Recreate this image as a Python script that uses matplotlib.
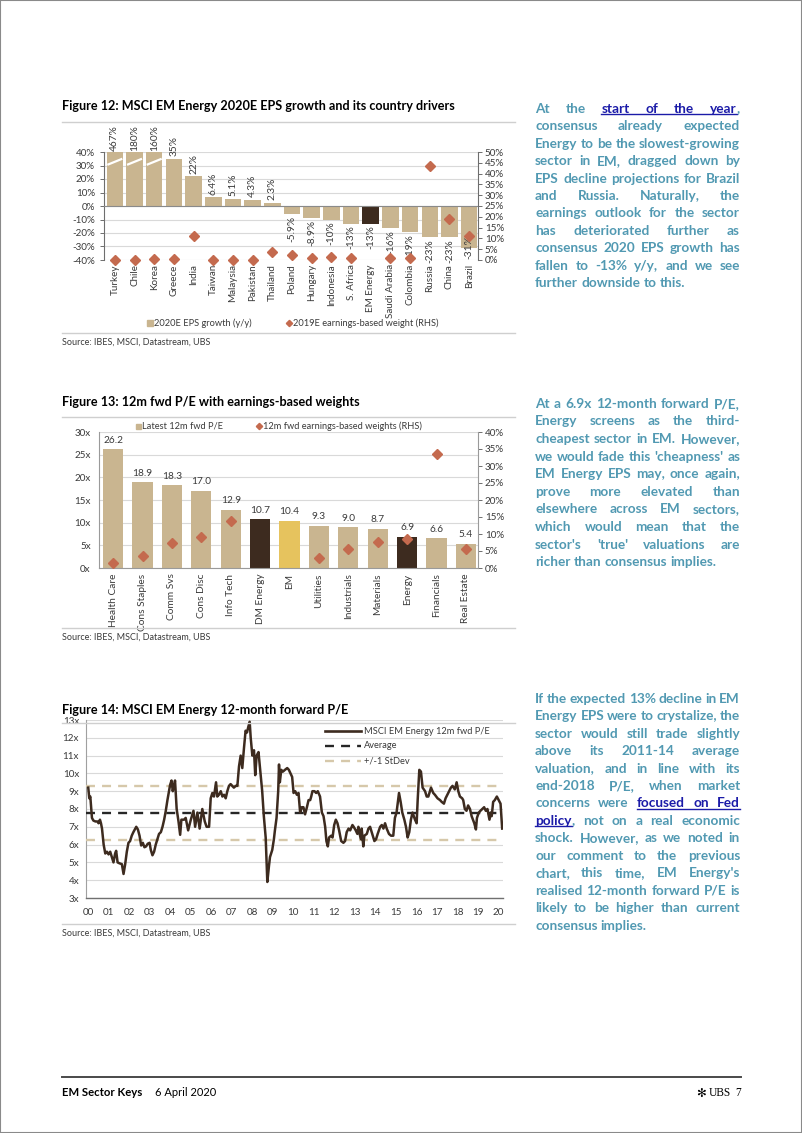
import re
import numpy as np
import matplotlib
matplotlib.use("Agg")
import matplotlib.pyplot as plt
from matplotlib.lines import Line2D
from matplotlib.patches import Rectangle

# ---------------- data ----------------
fig12_countries = ["Turkey", "Chile", "Korea", "Greece", "India", "Taiwan", "Malaysia",
                   "Pakistan", "Thailand", "Poland", "Hungary", "Indonesia", "S. Africa",
                   "EM Energy", "Saudi Arabia", "Colombia", "Russia", "China", "Brazil"]
fig12_eps_growth = [467, 180, 160, 35, 22, 6.4, 5.1, 4.3, 2.3, -5.9, -8.9, -10, -13,
                    -13, -16, -19, -23, -23, -31]
fig12_weights = [0.0, 0.0, 0.5, 0.3, 11.3, 0.2, 0.2, 0.1, 3.8, 2.3, 0.8, 1.2, 0.8,
                 np.nan, 1.0, 0.8, 43.7, 19.0, 11.1]
fig12_highlight = "EM Energy"

fig13_sectors = ["Health Care", "Cons Staples", "Comm Svs", "Cons Disc", "Info Tech",
                 "DM Energy", "EM", "Utilities", "Industrials", "Materials", "Energy",
                 "Financials", "Real Estate"]
fig13_pe = [26.2, 18.9, 18.3, 17.0, 12.9, 10.7, 10.4, 9.3, 9.0, 8.7, 6.9, 6.6, 5.4]
fig13_weights = [1.6, 3.6, 7.4, 9.2, 13.9, np.nan, np.nan, 2.85, 5.7, 7.7, 8.4, 33.5, 5.5]
fig13_dark = ["DM Energy", "Energy"]
fig13_yellow = ["EM"]

pe_dates = [
    2000.00, 2000.05, 2000.10, 2000.18, 2000.25, 2000.35, 2000.45, 2000.50, 2000.57, 2000.62,
    2000.67, 2000.75, 2000.83, 2000.91, 2000.99, 2001.07, 2001.15, 2001.23, 2001.31, 2001.36,
    2001.43, 2001.52, 2001.64, 2001.72, 2001.80, 2001.88, 2001.96, 2002.04, 2002.12, 2002.20,
    2002.34, 2002.42, 2002.50, 2002.58, 2002.66, 2002.74, 2002.82, 2002.90, 2002.99, 2003.05,
    2003.13, 2003.21, 2003.29, 2003.37, 2003.45, 2003.54, 2003.62, 2003.70, 2003.78, 2003.86,
    2003.99, 2004.06, 2004.12, 2004.18, 2004.23, 2004.31, 2004.40, 2004.48, 2004.54, 2004.67,
    2004.75, 2004.87, 2005.00, 2005.13, 2005.21, 2005.32, 2005.43, 2005.56, 2005.68, 2005.77,
    2005.89, 2005.97, 2006.05, 2006.13, 2006.23, 2006.29, 2006.37, 2006.46, 2006.54, 2006.62,
    2006.70, 2006.78, 2006.86, 2006.94, 2007.02, 2007.10, 2007.19, 2007.27, 2007.35, 2007.43,
    2007.51, 2007.59, 2007.67, 2007.74, 2007.80, 2007.87, 2007.92, 2008.00, 2008.08, 2008.14,
    2008.21, 2008.30, 2008.40, 2008.48, 2008.56, 2008.65, 2008.69, 2008.73, 2008.81, 2008.86,
    2008.97, 2009.05, 2009.10, 2009.18, 2009.26, 2009.30, 2009.34, 2009.41, 2009.49, 2009.59,
    2009.70, 2009.78, 2009.86, 2009.94, 2010.01, 2010.09, 2010.17, 2010.25, 2010.33, 2010.41,
    2010.49, 2010.57, 2010.66, 2010.74, 2010.82, 2010.87, 2010.93, 2011.03, 2011.11, 2011.19,
    2011.30, 2011.39, 2011.47, 2011.55, 2011.61, 2011.68, 2011.74, 2011.84, 2011.91, 2011.99,
    2012.07, 2012.15, 2012.23, 2012.33, 2012.44, 2012.52, 2012.60, 2012.69, 2012.77, 2012.88,
    2012.94, 2013.04, 2013.12, 2013.17, 2013.25, 2013.30, 2013.33, 2013.41, 2013.46, 2013.58,
    2013.66, 2013.74, 2013.82, 2013.95, 2014.03, 2014.11, 2014.23, 2014.31, 2014.39, 2014.47,
    2014.55, 2014.66, 2014.76, 2014.87, 2014.95, 2015.03, 2015.15, 2015.23, 2015.31, 2015.41,
    2015.49, 2015.57, 2015.65, 2015.73, 2015.81, 2015.93, 2016.01, 2016.06, 2016.14, 2016.22,
    2016.30, 2016.42, 2016.50, 2016.58, 2016.71, 2016.82, 2016.90, 2017.03, 2017.15, 2017.23,
    2017.34, 2017.42, 2017.55, 2017.68, 2017.76, 2017.87, 2017.96, 2018.04, 2018.12, 2018.23,
    2018.28, 2018.36, 2018.44, 2018.52, 2018.61, 2018.69, 2018.82, 2018.90, 2018.95, 2019.04,
    2019.12, 2019.21, 2019.30, 2019.38, 2019.46, 2019.56, 2019.63, 2019.67, 2019.74, 2019.82,
    2019.92, 2020.01, 2020.10, 2020.18]
pe_values = [
    9.2, 8.6, 8.7, 7.5, 7.35, 7.3, 7.3, 7.2, 7.4, 7.2,
    6.9, 6.0, 5.5, 5.6, 5.45, 5.6, 5.3, 5.0, 5.5, 5.65,
    5.0, 4.95, 4.9, 4.35, 4.9, 5.6, 6.1, 6.2, 6.5, 6.7,
    7.0, 6.85, 6.5, 5.95, 6.1, 5.85, 5.9, 6.05, 6.1, 5.7,
    5.4, 5.6, 6.0, 6.3, 6.6, 6.7, 7.0, 7.4, 7.9, 8.5,
    9.35, 9.6, 9.0, 9.3, 9.6, 8.0, 7.3, 6.55, 7.4, 7.4,
    7.5, 6.8, 7.4, 7.9, 7.0, 7.8, 6.9, 8.0, 7.3, 7.0,
    7.0, 8.6, 8.9, 8.7, 9.5, 8.7, 8.8, 9.0, 8.7, 8.8,
    8.6, 9.0, 9.3, 9.4, 9.3, 9.2, 9.3, 9.3, 10.4, 11.0,
    10.3, 11.4, 12.4, 12.3, 12.6, 12.9, 12.0, 11.0, 11.3, 9.9,
    11.0, 11.2, 10.0, 9.0, 7.6, 6.4, 5.1, 3.9, 4.8, 5.3,
    5.7, 6.3, 6.8, 7.5, 9.0, 10.5, 9.5, 10.2, 10.1, 10.2,
    10.3, 10.2, 10.0, 9.8, 8.9, 9.0, 8.8, 8.9, 7.8, 8.1,
    8.1, 7.7, 8.1, 8.5, 8.5, 8.7, 9.0, 9.0, 8.9, 9.0,
    8.7, 7.8, 7.6, 7.0, 6.2, 5.9, 6.4, 6.5, 6.4, 7.1,
    7.4, 7.2, 6.8, 6.2, 6.1, 6.2, 6.7, 6.9, 6.8, 7.1,
    7.0, 6.8, 6.6, 7.0, 6.5, 6.3, 6.9, 5.9, 6.5, 6.6,
    6.9, 7.0, 6.7, 6.2, 6.3, 6.6, 7.0, 7.1, 6.9, 7.2,
    6.9, 6.6, 6.5, 6.5, 7.5, 7.8, 8.9, 8.4, 7.8, 7.4,
    7.0, 6.4, 6.7, 7.4, 7.8, 7.4, 7.2, 8.5, 10.2, 10.1,
    9.2, 9.0, 8.7, 8.7, 9.2, 8.9, 8.8, 8.6, 8.5, 8.4,
    8.3, 8.6, 8.9, 9.2, 9.3, 9.1, 9.5, 9.0, 8.7, 8.6,
    8.5, 8.0, 7.9, 8.2, 8.0, 7.6, 7.2, 6.85, 7.5, 7.8,
    7.9, 8.0, 8.1, 7.9, 8.0, 7.4, 7.8, 7.6, 8.4, 8.5,
    8.7, 8.5, 8.3, 6.9]
pe_average = 7.8
pe_sd_band = [6.25, 9.3]
fig14_years = list(range(2000, 2021))

titles = ["Figure 12: MSCI EM Energy 2020E EPS growth and its country drivers",
          "Figure 13: 12m fwd P/E with earnings-based weights",
          "Figure 14: MSCI EM Energy 12-month forward P/E"]
source_text = "Source: IBES, MSCI, Datastream, UBS"

para1 = ["At the [start] [of] [the] [year],",
         "consensus already expected",
         "Energy to be the slowest-growing",
         "sector in EM, dragged down by",
         "EPS decline projections for Brazil",
         "and Russia. Naturally, the",
         "earnings outlook for the sector",
         "has deteriorated further as",
         "consensus 2020 EPS growth has",
         "fallen to -13% y/y, and we see",
         "further downside to this."]
para2 = ["At a 6.9x 12-month forward P/E,",
         "Energy screens as the third-",
         "cheapest sector in EM. However,",
         "we would fade this 'cheapness' as",
         "EM Energy EPS may, once again,",
         "prove more elevated than",
         "elsewhere across EM sectors,",
         "which would mean that the",
         "sector's 'true' valuations are",
         "richer than consensus implies."]
para3 = ["If the expected 13% decline in EM",
         "Energy EPS were to crystalize, the",
         "sector would still trade slightly",
         "above its 2011-14 average",
         "valuation, and in line with its",
         "end-2018 P/E, when market",
         "concerns were [focused] [on] [Fed]",
         "[policy], not on a real economic",
         "shock. However, as we noted in",
         "our comment to the previous",
         "chart, this time, EM Energy's",
         "realised 12-month forward P/E is",
         "likely to be higher than current",
         "consensus implies."]

# ---------------- style ----------------
FONT = "Lato"
TXT = "#3a3a3a"
TAN = "#C9B590"
DARK = "#3D2B1F"
YELLOW = "#E6C35E"
DIAMOND = "#C46A4E"
SD_TAN = "#D6C8AA"
GRID = "#D9D9D9"
SPINE = "#6e6e6e"
PARA = "#5199B2"
LINK = "#1B1BA8"
TICK_FS = 7.1
LEG_FS = 6.7
VAL_FS = 7.3

plt.rcParams["font.family"] = [FONT, "DejaVu Sans"]

W, H = 802, 1133
fig = plt.figure(figsize=(W / 100, H / 100), dpi=100)
fig.patch.set_facecolor("white")


def fx(x):
    return x / W


def fy(y):
    return 1 - y / H


def rect(x0, y0, x1, y1):
    return [fx(x0), fy(y1), (x1 - x0) / W, (y1 - y0) / H]


def hline(x0, x1, y, color, lw):
    fig.add_artist(Line2D([fx(x0), fx(x1)], [fy(y), fy(y)], color=color, lw=lw,
                          transform=fig.transFigure))


def style_ticks(ax):
    ax.tick_params(labelsize=TICK_FS, colors=TXT, length=3, width=0.7, color=SPINE)


# ---------- headers / sources ----------
for t, y in zip(titles, [106, 402, 710]):
    fig.text(fx(62), fy(y), t, fontsize=9.05, fontweight="bold", color="black",
             va="center", ha="left")
for y in [122, 417, 723]:
    hline(62, 515, y, "#CFCFCF", 1.0)
for y_line, y_txt in [(333, 342), (628, 637), (924, 933)]:
    hline(62, 515, y_line, "#CFCFCF", 1.0)
    fig.text(fx(62), fy(y_txt), source_text, fontsize=6.45, color=TXT, va="center",
             ha="left")

# ---------------- Figure 12 ----------------
ax = fig.add_axes(rect(104, 152, 478, 260))
n12 = len(fig12_countries)
x12 = np.arange(n12)
shown = [min(v, 40) for v in fig12_eps_growth]
cols = [DARK if c == fig12_highlight else TAN for c in fig12_countries]
ax.bar(x12, shown, width=0.84, color=cols, zorder=2)
ax.set_xlim(-0.55, n12 - 0.55)
ax.set_ylim(-40, 40)
ax.set_yticks(np.arange(-40, 41, 10))
ax.set_yticklabels([f"{v}%" for v in range(-40, 41, 10)])
ax.yaxis.grid(True, color=GRID, lw=0.8, zorder=0)
ax.set_axisbelow(True)
ax.axhline(0, color="#8a8a8a", lw=0.8, zorder=3)
for s in ["top", "bottom"]:
    ax.spines[s].set_visible(False)
ax.spines["left"].set_color(SPINE)
ax.spines["right"].set_visible(False)
style_ticks(ax)
ax.set_xticks(x12)
ax.set_xticklabels(fig12_countries, rotation=90, fontsize=TICK_FS, color=TXT)
ax.tick_params(axis="x", length=0, pad=3)
for i, v in enumerate(fig12_eps_growth):
    lab = f"{v:.1f}%" if abs(v) < 10 else f"{v:.0f}%"
    if v > 40:
        # truncated bar: break marks
        ax.plot([i - 0.38, i + 0.38], [30.5, 35.0], color="white", lw=1.6, zorder=4,
                solid_capstyle="butt")
        ax.text(i, 41, lab, rotation=90, ha="center", va="bottom", fontsize=VAL_FS,
                color=TXT, clip_on=False)
    elif v >= 0:
        ax.text(i, v + 2, lab, rotation=90, ha="center", va="bottom", fontsize=VAL_FS,
                color=TXT)
    elif v > -26:
        ax.text(i, v - 1.5, lab, rotation=90, ha="center", va="top", fontsize=VAL_FS,
                color=TXT, zorder=5)
    else:
        ax.text(i, -39.3, lab, rotation=90, ha="center", va="bottom", fontsize=VAL_FS,
                color=TXT, zorder=5)
ax2 = ax.twinx()
ax2.set_ylim(0, 50)
ax2.set_yticks(np.arange(0, 51, 5))
ax2.set_yticklabels([f"{v}%" for v in range(0, 51, 5)])
ax2.plot(x12, fig12_weights, linestyle="none", marker="D", ms=4.6, color=DIAMOND,
         clip_on=False, zorder=6)
for s in ["top", "bottom", "left"]:
    ax2.spines[s].set_visible(False)
ax2.spines["right"].set_color(SPINE)
style_ticks(ax2)
ax2.tick_params(pad=2)
# legend
fig.add_artist(Line2D([fx(150)], [fy(323)], marker="s", ms=4, color=TAN, ls="none",
                      transform=fig.transFigure))
fig.text(fx(154), fy(323), "2020E EPS growth (y/y)", fontsize=LEG_FS, color=TXT,
         va="center", ha="left")
fig.add_artist(Line2D([fx(289)], [fy(323)], marker="D", ms=3.2, color=DIAMOND, ls="none",
                      transform=fig.transFigure))
fig.text(fx(293), fy(323), "2019E earnings-based weight (RHS)", fontsize=LEG_FS,
         color=TXT, va="center", ha="left")

# ---------------- Figure 13 ----------------
ax = fig.add_axes(rect(99, 432, 478, 568))
n13 = len(fig13_sectors)
x13 = np.arange(n13)
cols = [DARK if s in fig13_dark else (YELLOW if s in fig13_yellow else TAN)
        for s in fig13_sectors]
ax.bar(x13, fig13_pe, width=0.69, color=cols, zorder=2)
ax.set_xlim(-0.48, n13 - 0.59)
ax.set_ylim(0, 30)
ax.set_yticks(np.arange(0, 31, 5))
ax.set_yticklabels([f"{v}x" for v in range(0, 31, 5)])
ax.yaxis.grid(True, color=GRID, lw=0.8, zorder=0)
ax.set_axisbelow(True)
for s in ["top", "right"]:
    ax.spines[s].set_visible(False)
ax.spines["left"].set_color("#9a9a9a")
ax.spines["bottom"].set_color("#9a9a9a")
style_ticks(ax)
ax.set_xticks(x13)
ax.set_xticklabels(fig13_sectors, rotation=90, fontsize=TICK_FS + 0.2, color=TXT)
ax.tick_params(axis="x", length=0, pad=4)
ax.tick_params(axis="y", length=0, pad=6)
for i, v in enumerate(fig13_pe):
    ax.text(i, v + 1.0, f"{v:.1f}", ha="center", va="bottom", fontsize=VAL_FS,
            color=TXT)
ax2 = ax.twinx()
ax2.set_ylim(0, 40)
ax2.set_yticks(np.arange(0, 41, 5))
ax2.set_yticklabels([f"{v}%" for v in range(0, 41, 5)])
ax2.plot(x13, fig13_weights, linestyle="none", marker="D", ms=4.6, color=DIAMOND,
         clip_on=False, zorder=6)
for s in ["top", "bottom", "left"]:
    ax2.spines[s].set_visible(False)
ax2.spines["right"].set_color("#9a9a9a")
style_ticks(ax2)
ax2.tick_params(pad=2)
fig.add_artist(Line2D([fx(138)], [fy(426)], marker="s", ms=3.6, color=TAN, ls="none",
                      transform=fig.transFigure))
fig.text(fx(142), fy(426), "Latest 12m fwd P/E", fontsize=LEG_FS, color=TXT,
         va="center", ha="left")
fig.add_artist(Line2D([fx(259)], [fy(426)], marker="D", ms=3.2, color=DIAMOND, ls="none",
                      transform=fig.transFigure))
fig.text(fx(263), fy(426), "12m fwd earnings-based weights (RHS)", fontsize=LEG_FS,
         color=TXT, va="center", ha="left")

# ---------------- Figure 14 ----------------
ax = fig.add_axes(rect(86, 720, 503, 898))
ax.plot(pe_dates, pe_values, color=DARK, lw=1.8, zorder=4, solid_joinstyle="round")
ax.axhline(pe_average, color="#262626", lw=1.7, dashes=(3.8, 3.0), zorder=3)
for v in pe_sd_band:
    ax.axhline(v, color=SD_TAN, lw=1.7, dashes=(3.8, 3.0), zorder=3)
ax.set_xlim(1999.89, 2020.22)
ax.set_ylim(3, 13)
ax.set_yticks(range(3, 14))
ax.set_yticklabels([f"{v}x" for v in range(3, 14)])
ax.set_xticks(fig14_years)
ax.set_xticklabels([f"{y % 100:02d}" for y in fig14_years])
ax.yaxis.grid(True, color=GRID, lw=0.8, zorder=0)
ax.set_axisbelow(True)
for s in ["top", "right"]:
    ax.spines[s].set_visible(False)
ax.spines["left"].set_color("#a0a0a0")
ax.spines["bottom"].set_color("#707070")
ax.spines["bottom"].set_linewidth(1.0)
style_ticks(ax)
ax.tick_params(length=0, pad=5)
ax.tick_params(axis="x", pad=7)
leg_items = [("MSCI EM Energy 12m fwd P/E", DARK, None, 1.9),
             ("Average", "#262626", (3.8, 3.0), 1.7),
             ("+/-1 StDev", SD_TAN, (3.8, 3.0), 1.7)]
for k, (lab, c, d, lw) in enumerate(leg_items):
    y = 731 + 15 * k
    ln = Line2D([fx(325), fx(361)], [fy(y), fy(y)], color=c, lw=lw,
                transform=fig.transFigure)
    if d:
        ln.set_dashes(d)
    fig.add_artist(ln)
    fig.text(fx(364), fy(y), lab, fontsize=LEG_FS, color=TXT, va="center", ha="left")

# ---------------- justified commentary ----------------
renderer = fig.canvas.get_renderer()
X0, X1 = 535, 740


def text_w(s, fs):
    t = fig.text(0, 0, s, fontsize=fs, fontweight="bold")
    w = t.get_window_extent(renderer).width
    t.remove()
    return w


def parse_line(s):
    words = []
    for w in s.split(" "):
        segs = []
        for m in re.finditer(r"\[([^\]]*)\]|([^\[]+)", w):
            if m.group(1) is not None:
                segs.append((m.group(1), True))
            else:
                segs.append((m.group(2), False))
        words.append(segs)
    return words


def paragraph(lines, y_first, dy, fs):
    space_w = text_w("a a", fs) - text_w("aa", fs)
    for li, line in enumerate(lines):
        words = parse_line(line)
        widths = [[text_w(s, fs) for s, _ in w] for w in words]
        totals = [sum(ws) for ws in widths]
        last = li == len(lines) - 1
        if last or len(words) == 1:
            gap = space_w
        else:
            gap = (X1 - X0 - sum(totals)) / (len(words) - 1)
        x = X0
        yb = y_first + li * dy + 4.5
        lstart = None
        lend = None
        for w, ws in zip(words, widths):
            for (s, lk), sw in zip(w, ws):
                fig.text(fx(x), fy(yb), s, color=LINK if lk else PARA, fontsize=fs,
                         fontweight="bold", va="baseline", ha="left")
                if lk:
                    if lstart is None:
                        lstart = x
                    lend = x + sw
                elif lstart is not None:
                    hline(lstart, lend, yb + 1.6, LINK, 1.0)
                    lstart = None
                x += sw
            x += gap
        if lstart is not None:
            hline(lstart, lend, yb + 1.6, LINK, 1.0)


PFS = 9.85
all_lines = [l for p in (para1, para2, para3) for l in p[:-1]]
maxw = 0
for l in all_lines:
    words = parse_line(l)
    tw = sum(text_w(s, PFS) for w in words for s, _ in w)
    tw += (len(words) - 1) * 2.0
    maxw = max(maxw, tw)
if maxw > X1 - X0:
    PFS *= (X1 - X0) / maxw

paragraph(para1, 108.3, 17.44, PFS)
paragraph(para2, 403.3, 17.6, PFS)
paragraph(para3, 698.3, 17.44, PFS)

# ---------------- footer ----------------
hline(62, 741, 1077, "#4a4a4a", 1.4)
fig.text(fx(62), fy(1093), "EM Sector Keys", fontsize=8.2, fontweight="bold",
         color="black", va="center", ha="left")
fig.text(fx(155), fy(1093), "6 April 2020", fontsize=8.0, color="black",
         va="center", ha="left")
fig.text(fx(741), fy(1093), "7", fontsize=8.3, color="black", va="center", ha="right",
         family="Liberation Serif")
fig.text(fx(731), fy(1093), "UBS", fontsize=8.3, color="black", va="center", ha="right",
         family="Liberation Serif")
fig.text(fx(706), fy(1093), "\u273B", fontsize=8.5, color="black", va="center",
         ha="right", family="DejaVu Sans")

fig.add_artist(Rectangle((0, 0), 1, 1, transform=fig.transFigure, fill=False,
                         edgecolor="#8a8a8a", lw=1.5))

fig.savefig("out.png", dpi=100, facecolor="white")
